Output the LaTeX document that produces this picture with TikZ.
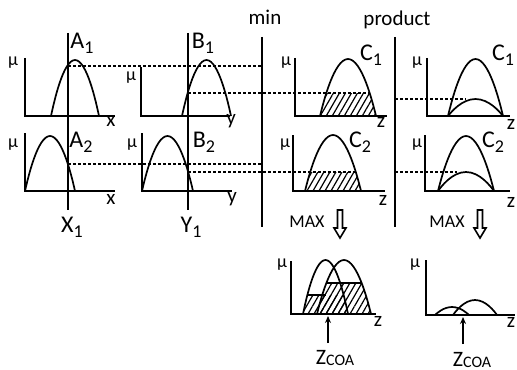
\documentclass[tikz,border=0pt]{standalone}
\usepackage{fontspec}
\setmainfont{Carlito}
\usetikzlibrary{patterns.meta,arrows.meta}
\newcommand\sbs[1]{\raisebox{-0.45ex}{\small #1}}

\begin{document}
\begin{tikzpicture}[x=0.5pt,y=-0.5pt,
    axis/.style={line width=1pt},
    curve/.style={line width=0.85pt},
    level/.style={line width=0.9pt,dash pattern=on 1.5pt off 1pt},
    hatch/.style={pattern={Lines[angle=60,distance=2.6pt,line width=0.6pt]}},
    big/.style={font=\fontsize{12}{14}\selectfont},
    var/.style={font=\fontsize{10.5}{12}\selectfont},
    mu/.style={font=\fontsize{9}{10}\selectfont},
    small/.style={font=\fontsize{9}{10}\selectfont}]
    \useasboundingbox (0,0) rectangle (517,369);

    % axes: origin x / origin y / top of mu axis / end of x axis
    \foreach \ox/\oy/\top/\xe in {25/116/58/115, 141/116/67/230, 295/116/58/387, 427/116/58/510,
                                 25/191/133/115, 142/191/133/232, 293/191/135/385, 425/191/135/510,
                                 291/314/261/376, 426/315/260/515}
        \draw[axis] (\ox,\top) -- (\ox,\oy) -- (\xe,\oy);

    % mu and variable labels
    \foreach \mx/\my in {13/63, 131/78, 286/63, 417/63, 13/145, 132/145, 285/145, 417/145, 282/265, 415/265}
        \node[mu] at (\mx,\my) {μ};
    \node[var] (xA1) at (111,121) {x};
    \node[var] (yB1) at (231,121) {y};
    \node[var] (zC1) at (381,122) {z};
    \node[var] (zP1) at (511,124) {z};
    \node[var] (xA2) at (111,199) {x};
    \node[var] (yB2) at (232,199) {y};
    \node[var] (zC2) at (383,200) {z};
    \node[var] (zP2) at (511,202) {z};
    \node[var] (zR1) at (378,321) {z};
    \node[var] (zR2) at (511,322) {z};

    % separators and input lines
    \draw[axis] (262,37) -- (262,227);
    \draw[axis] (395,37) -- (395,227);
    \draw[curve] (68,33) -- (68,210);
    \draw[curve] (188,33) -- (188,210);
    \node[big] (X1) at (72,227) {X\sbs{1}};
    \node[big] (Y1) at (191,227) {Y\sbs{1}};
    \node[var] (min) at (265,17) {min};
    \node[var] (prod) at (397,20) {product};

    % membership functions
    \draw[curve] (51,116) parabola bend (75,60) (99,116);
    \draw[curve] (182,116) parabola bend (206.5,60) (231,116);
    \draw[curve] (25,191) parabola bend (50,136) (75,191);
    \draw[curve] (142,191) parabola bend (167.5,136) (193,191);
    \node[big] (A1) at (82,43) {A\sbs{1}};
    \node[big] (B1) at (203,43) {B\sbs{1}};
    \node[big] (A2) at (81,142) {A\sbs{2}};
    \node[big] (B2) at (204,142) {B\sbs{2}};

    % min rule outputs
    \begin{scope}
        \clip (320,116) parabola bend (348,59) (376,116) -- cycle;
        \fill[hatch] (315,93) rectangle (380,116);
    \end{scope}
    \begin{scope}
        \clip (305,191) parabola bend (333,135) (361,191) -- cycle;
        \fill[hatch] (300,172) rectangle (365,191);
    \end{scope}
    \draw[curve] (320,116) parabola bend (348,59) (376,116);
    \draw[curve] (305,191) parabola bend (333,135) (361,191);
    \node[big] (C1) at (371,55) {C\sbs{1}};
    \node[big] (C2) at (360,142) {C\sbs{2}};

    % product rule outputs
    \draw[curve] (448,116) parabola bend (475.5,59) (503,116);
    \draw[curve] (448,116) parabola bend (475.5,99) (503,116);
    \draw[curve] (438,191) parabola bend (466,136) (494,191);
    \draw[curve] (438,191) parabola bend (466,172) (494,191);
    \node[big] (C1p) at (503,55) {C\sbs{1}};
    \node[big] (C2p) at (493,142) {C\sbs{2}};

    % levels
    \draw[level] (68,66) -- (262,66);
    \draw[level] (188,93) -- (369,93);
    \draw[level] (68,164) -- (262,164);
    \draw[level] (188,172) -- (356,172);
    \draw[level] (395,99) -- (466,99);
    \draw[level] (395,172) -- (457,172);

    % MAX
    \node[small] (max1) at (307,222) {MAX};
    \node[small] (max2) at (447,222) {MAX};
    \foreach \ax in {340,480}
        \draw[line width=0.8pt] ({\ax-2.5},210) -- ({\ax+2.5},210) -- ({\ax+2.5},228) -- ({\ax+6},228)
            -- (\ax,238) -- ({\ax-6},228) -- ({\ax-2.5},228) -- cycle;

    % aggregated min result
    \begin{scope}
        \clip (303,314) parabola bend (325.5,260) (348,314) -- cycle;
        \fill[hatch] (300,295) rectangle (350,314);
    \end{scope}
    \begin{scope}
        \clip (317,314) parabola bend (344,260) (371,314) -- cycle;
        \fill[hatch] (315,283) rectangle (375,314);
    \end{scope}
    \draw[curve] (303,314) parabola bend (325.5,260) (348,314);
    \draw[curve] (317,314) parabola bend (344,260) (371,314);
    \draw[curve] (307,295) -- (326,295);
    \draw[curve] (326,283) -- (362,283);

    % aggregated product result
    \draw[curve] (435,315) parabola bend (452,307) (469,315);
    \draw[curve] (453,315) parabola bend (475,300) (497,315);

    % centroids
    \node[font=\fontsize{11}{13}\selectfont] (zcoa1) at (335,358) {Z\raisebox{-0.15ex}{\footnotesize COA}};
    \node[font=\fontsize{11}{13}\selectfont] (zcoa2) at (472,360) {Z\raisebox{-0.15ex}{\footnotesize COA}};
    \coordinate (c1) at (328,316);
    \coordinate (c2) at (463,317);
    \draw[curve,-{Stealth[length=3.5pt,width=3pt]}] (328,343) -- (c1);
    \draw[curve,-{Stealth[length=3.5pt,width=3pt]}] (463,344) -- (c2);
\end{tikzpicture}
\end{document}
